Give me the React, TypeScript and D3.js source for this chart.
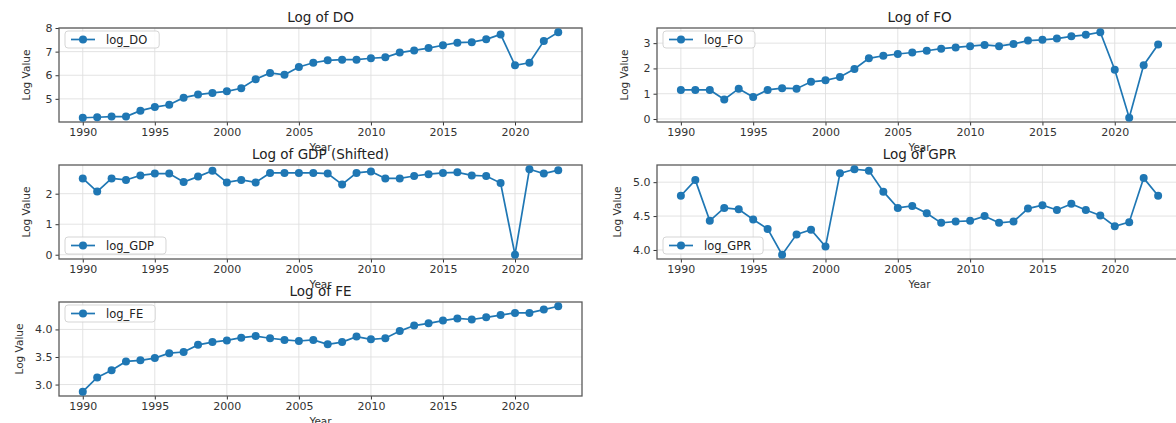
import * as d3 from 'd3';
import { useEffect, useRef } from 'react';

const years = d3.range(1990, 2024);

const logDO = [4.2, 4.22, 4.25, 4.25, 4.5, 4.65, 4.75, 5.05, 5.18, 5.25, 5.32, 5.45, 5.83, 6.1, 6.02, 6.35, 6.53, 6.63, 6.66, 6.66, 6.72, 6.76, 6.96, 7.05, 7.15, 7.27, 7.38, 7.4, 7.52, 7.73, 6.42, 6.53, 7.45, 7.82];
const logFO = [1.15, 1.15, 1.15, 0.77, 1.2, 0.87, 1.15, 1.22, 1.2, 1.47, 1.53, 1.66, 1.98, 2.4, 2.5, 2.57, 2.63, 2.7, 2.78, 2.83, 2.88, 2.93, 2.88, 2.97, 3.1, 3.13, 3.18, 3.27, 3.33, 3.43, 1.95, 0.05, 2.13, 2.95];
const logGDP = [2.5, 2.07, 2.5, 2.45, 2.6, 2.66, 2.66, 2.38, 2.56, 2.75, 2.37, 2.45, 2.37, 2.68, 2.68, 2.68, 2.68, 2.66, 2.3, 2.68, 2.73, 2.5, 2.5, 2.58, 2.64, 2.68, 2.7, 2.6, 2.58, 2.35, 0.0, 2.8, 2.66, 2.77];
const logGPR = [4.8, 5.03, 4.43, 4.62, 4.6, 4.45, 4.31, 3.93, 4.23, 4.3, 4.05, 5.13, 5.19, 5.17, 4.86, 4.62, 4.65, 4.54, 4.4, 4.42, 4.43, 4.5, 4.4, 4.42, 4.61, 4.66, 4.59, 4.68, 4.59, 4.51, 4.35, 4.41, 5.06, 4.8];
const logFE = [2.87, 3.13, 3.26, 3.42, 3.44, 3.48, 3.57, 3.59, 3.72, 3.77, 3.8, 3.85, 3.88, 3.84, 3.81, 3.79, 3.81, 3.73, 3.77, 3.87, 3.82, 3.84, 3.97, 4.07, 4.11, 4.16, 4.2, 4.18, 4.22, 4.26, 4.3, 4.3, 4.36, 4.42];

const xTicks = [1990, 1995, 2000, 2005, 2010, 2015, 2020];

const panels = [
  { title: 'Log of DO', label: 'log_DO', values: logDO, yTicks: [5, 6, 7, 8], fmt: '0', legend: 'upper', col: 0, row: 0 },
  { title: 'Log of FO', label: 'log_FO', values: logFO, yTicks: [0, 1, 2, 3], fmt: '0', legend: 'upper', col: 1, row: 0 },
  { title: 'Log of GDP (Shifted)', label: 'log_GDP', values: logGDP, yTicks: [0, 1, 2], fmt: '0', legend: 'lower', col: 0, row: 1 },
  { title: 'Log of GPR', label: 'log_GPR', values: logGPR, yTicks: [4.0, 4.5, 5.0], fmt: '1', legend: 'lower', col: 1, row: 1 },
  { title: 'Log of FE', label: 'log_FE', values: logFE, yTicks: [3.0, 3.5, 4.0], fmt: '1', legend: 'upper', col: 0, row: 2 },
];

const W = 1176;
const H = 423;
const colX = [59, 657];
const colW = [523, 525];
const rowY = [28, 165, 302];
const panelH = 94;
const blue = '#1f77b4';
const font = 'DejaVu Sans, sans-serif';

function App() {
  const svgRef = useRef(null);

  useEffect(() => {
    const svg = d3.select(svgRef.current);
    svg.selectAll('*').remove();

    panels.forEach(p => {
      const x0 = colX[p.col];
      const w = colW[p.col];
      const y0 = rowY[p.row];
      const g = svg.append('g').attr('transform', `translate(${x0},${y0})`);

      const x = d3.scaleLinear().domain([1990 - 1.65, 2023 + 1.65]).range([0, w]);
      const [mn, mx] = d3.extent(p.values) as [number, number];
      const pad = (mx - mn) * 0.05;
      const y = d3.scaleLinear().domain([mn - pad, mx + pad]).range([panelH, 0]);

      // grid
      g.selectAll('.gx').data(xTicks).join('line')
        .attr('x1', d => x(d)).attr('x2', d => x(d))
        .attr('y1', 0).attr('y2', panelH)
        .attr('stroke', '#e0e0e0').attr('stroke-width', 0.9);
      g.selectAll('.gy').data(p.yTicks).join('line')
        .attr('x1', 0).attr('x2', w)
        .attr('y1', d => y(d)).attr('y2', d => y(d))
        .attr('stroke', '#e0e0e0').attr('stroke-width', 0.9);

      // axes
      const xAxis = g.append('g')
        .attr('transform', `translate(0,${panelH})`)
        .call(d3.axisBottom(x).tickValues(xTicks).tickFormat(d3.format('d')).tickSize(3.5).tickPadding(3));
      const yAxis = g.append('g')
        .call(d3.axisLeft(y).tickValues(p.yTicks).tickFormat(d3.format(p.fmt === '1' ? '.1f' : 'd')).tickSize(3.5).tickPadding(3));
      [xAxis, yAxis].forEach(a => {
        a.select('.domain').remove();
        a.selectAll('line').attr('stroke', '#333');
        a.selectAll('text').attr('font-family', font).attr('font-size', 11).attr('fill', '#333');
      });

      // frame
      g.append('rect')
        .attr('width', w).attr('height', panelH)
        .attr('fill', 'none').attr('stroke', '#5a5a5a').attr('stroke-width', 1.3);

      // series
      const line = d3.line<number>().x((_, i) => x(years[i])).y(d => y(d));
      g.append('path').datum(p.values)
        .attr('fill', 'none').attr('stroke', blue).attr('stroke-width', 1.7)
        .attr('d', line);
      g.selectAll('.pt').data(p.values).join('circle')
        .attr('cx', (_, i) => x(years[i])).attr('cy', d => y(d))
        .attr('r', 4).attr('fill', blue);

      // title & labels
      g.append('text')
        .attr('x', w / 2).attr('y', -6)
        .attr('text-anchor', 'middle')
        .attr('font-family', font).attr('font-size', 13.5).attr('fill', '#222')
        .text(p.title);
      g.append('text')
        .attr('x', w / 2).attr('y', panelH + 29)
        .attr('text-anchor', 'middle')
        .attr('font-family', font).attr('font-size', 10.5).attr('fill', '#333')
        .text('Year');
      g.append('text')
        .attr('transform', `translate(${p.fmt === '1' ? -36 : -29},${panelH / 2}) rotate(-90)`)
        .attr('text-anchor', 'middle')
        .attr('font-family', font).attr('font-size', 10.5).attr('fill', '#333')
        .text('Log Value');

      // legend
      const lh = 17;
      const lx = 6;
      const ly = p.legend === 'upper' ? 3 : panelH - lh - 5;
      const lg = g.append('g').attr('transform', `translate(${lx},${ly})`);
      const box = lg.append('rect')
        .attr('height', lh).attr('rx', 3)
        .attr('fill', 'white').attr('fill-opacity', 0.85)
        .attr('stroke', '#d0d0d0').attr('stroke-width', 0.9);
      lg.append('line')
        .attr('x1', 6).attr('x2', 30).attr('y1', lh / 2).attr('y2', lh / 2)
        .attr('stroke', blue).attr('stroke-width', 1.7);
      lg.append('circle').attr('cx', 18).attr('cy', lh / 2).attr('r', 4).attr('fill', blue);
      const txt = lg.append('text')
        .attr('x', 41).attr('y', lh / 2 + 4)
        .attr('font-family', font).attr('font-size', 11.5).attr('fill', '#222')
        .text(p.label);
      const tw = (txt.node() as SVGTextElement).getComputedTextLength();
      box.attr('width', 41 + tw + 12);
    });
  }, []);

  return (
    <div style={{ position: 'fixed', left: 0, top: 0, width: W, height: H, background: 'white' }}>
      <svg ref={svgRef} width={W} height={H} style={{ display: 'block' }} />
    </div>
  );
}

export default App;
